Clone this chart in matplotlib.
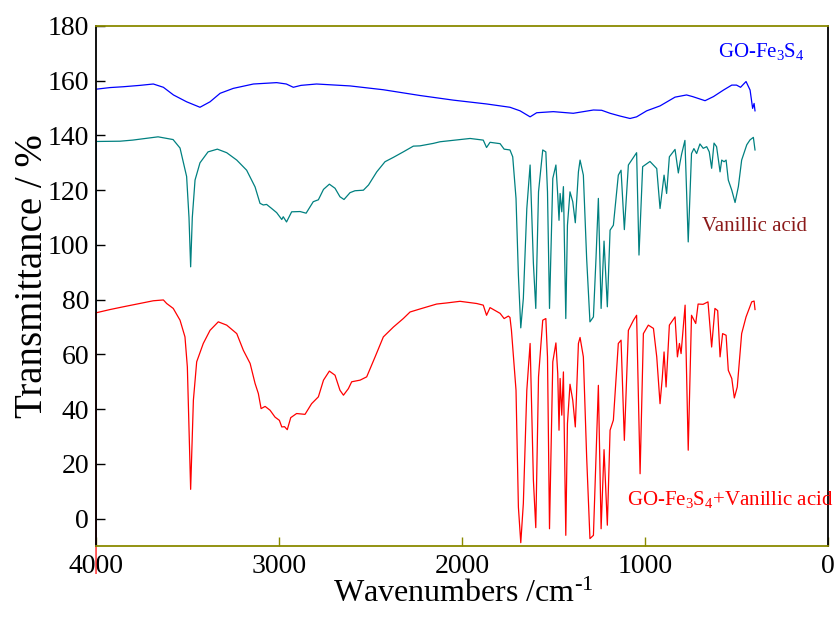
import matplotlib
matplotlib.use("Agg")
import matplotlib.pyplot as plt

plt.rcParams["font.family"] = ["Liberation Serif", "DejaVu Serif"]
plt.rcParams["mathtext.fontset"] = "custom"
plt.rcParams["mathtext.rm"] = "Liberation Serif"
plt.rcParams["mathtext.it"] = "Liberation Serif:italic"
plt.rcParams["mathtext.bf"] = "Liberation Serif:bold"

# FTIR spectra: wavenumber (cm-1) and transmittance (%, offset per trace)
go_wn = [4000, 4000, 3923, 3851, 3760, 3687, 3632, 3577, 3505, 3432, 3377, 3322, 3250,
         3140, 3013, 2960, 2922, 2880, 2795, 2612, 2430, 2230, 2047, 1865, 1738,
         1683, 1628, 1592, 1501, 1392, 1282, 1237, 1191, 1137, 1082, 1046, 991,
         918, 836, 773, 740, 672, 626, 571, 526, 500, 478, 448, 426, 412, 404, 399]
go_t = [-20, 156.9, 157.5, 157.8, 158.3, 158.8, 157.6, 154.8, 152.3, 150.3, 152.3, 155.4,
        157.2, 158.8, 159.3, 158.8, 157.6, 158.3, 158.8, 158.1, 156.7, 154.6, 152.9,
        151.5, 150.3, 149.0, 146.8, 148.3, 148.7, 148.1, 149.3, 149.2, 148.1, 147.1,
        146.2, 146.8, 149.0, 150.8, 154.0, 154.8, 154.2, 152.7, 154.2, 156.6, 158.4,
        158.4, 157.6, 159.7, 156.6, 149.9, 151.7, 149.0]

va_wn = [4000, 4000, 3869, 3800, 3732, 3661, 3579, 3541, 3526, 3505, 3492, 3483, 3474, 3459,
         3432, 3388, 3337, 3286, 3231, 3177, 3131, 3104, 3086, 3068, 3040, 3013,
         2985, 2977, 2959, 2931, 2885, 2852, 2813, 2785, 2757, 2725, 2694, 2667,
         2645, 2612, 2585, 2539, 2511, 2466, 2421, 2375, 2321, 2266, 2230, 2157,
         2120, 2011, 1956, 1884, 1866, 1847, 1792, 1770, 1738, 1723, 1705, 1692,
         1679, 1665, 1646, 1628, 1610, 1597, 1582, 1559, 1542, 1533, 1522, 1504,
         1487, 1477, 1470, 1464, 1455, 1446, 1433, 1424, 1410, 1395, 1381, 1364,
         1355, 1337, 1319, 1301, 1282, 1268, 1255, 1240, 1224, 1206, 1191, 1173,
         1146, 1131, 1113, 1091, 1046, 1033, 1013, 973, 936, 918, 896, 882, 867,
         836, 818, 809, 800, 782, 764, 746, 733, 718, 700, 682, 663, 649, 636, 623,
         609, 590, 581, 568, 557, 545, 526, 508, 490, 472, 444, 426, 408, 399]
va_t = [-20, 137.8, 137.9, 138.3, 138.9, 139.5, 138.5, 135.4, 131.0, 125.0, 110.0, 92.0,
        110.0, 123.7, 130.0, 134.0, 135.0, 133.7, 131.0, 127.3, 121.2, 115.2, 114.6,
        114.8, 113.3, 111.8, 109.3, 110.3, 108.4, 112.1, 112.2, 111.6, 115.8, 116.5,
        120.3, 122.2, 120.7, 117.6, 116.6, 119.1, 119.8, 120.0, 121.9, 126.7, 130.4,
        132.0, 134.0, 136.1, 136.2, 137.1, 137.7, 138.5, 138.9, 138.3, 135.6, 137.5,
        137.0, 135.0, 134.7, 132.2, 117.0, 89.0, 69.7, 80.4, 113.3, 129.2, 93.2,
        76.8, 119.4, 134.7, 134.0, 119.4, 76.8, 124.3, 129.2, 118.2, 109.0, 118.8,
        112.1, 121.3, 73.1, 107.2, 119.4, 115.8, 108.1, 126.7, 131.0, 125.5, 95.0,
        71.9, 73.7, 95.0, 117.0, 76.8, 101.4, 77.4, 105.4, 107.2, 125.5, 127.3,
        105.6, 129.2, 133.7, 96.3, 128.6, 130.5, 127.9, 113.3, 125.5, 118.8, 132.2,
        134.9, 126.3, 130.0, 133.2, 138.2, 101.1, 133.4, 135.2, 133.4, 136.9, 135.3,
        135.9, 134.0, 128.0, 137.2, 135.9, 126.7, 131.0, 130.4, 131.0, 123.7, 120.0,
        115.5, 121.3, 131.0, 136.6, 138.4, 139.3, 134.7]

mix_wn = [4000, 4000, 3923, 3851, 3760, 3687, 3632, 3614, 3578, 3541, 3514, 3501, 3483, 3468,
          3450, 3414, 3377, 3332, 3286, 3231, 3195, 3158, 3131, 3113, 3098, 3076,
          3049, 3022, 2998, 2985, 2970, 2955, 2936, 2904, 2858, 2822, 2785, 2757,
          2725, 2694, 2667, 2648, 2621, 2603, 2557, 2521, 2475, 2430, 2375, 2321,
          2284, 2230, 2139, 2084, 2011, 1920, 1884, 1866, 1847, 1792, 1770, 1747,
          1738, 1730, 1705, 1692, 1679, 1665, 1646, 1628, 1610, 1597, 1582, 1559,
          1542, 1533, 1522, 1504, 1487, 1477, 1470, 1464, 1455, 1446, 1433, 1424,
          1410, 1395, 1381, 1364, 1355, 1337, 1319, 1301, 1282, 1268, 1255, 1240,
          1224, 1206, 1191, 1173, 1146, 1131, 1113, 1091, 1063, 1046, 1027, 1009,
          982, 954, 936, 918, 906, 896, 885, 867, 836, 823, 812, 803, 781, 764, 746,
          723, 710, 683, 656, 636, 618, 603, 590, 576, 557, 545, 526, 512, 496, 472,
          448, 417, 404, 399]
mix_t = [-20, 75.2, 76.4, 77.4, 78.6, 79.6, 79.9, 78.6, 76.8, 72.5, 66.4, 55.4, 10.7, 43.3,
         57.3, 64.0, 68.8, 71.9, 70.7, 67.6, 61.5, 56.7, 49.4, 45.7, 40.2, 41.0,
         39.6, 37.1, 35.9, 33.5, 33.6, 32.5, 36.9, 38.4, 38.1, 42.0, 44.5, 50.6,
         53.9, 52.4, 46.9, 45.1, 47.5, 50.0, 50.6, 51.8, 59.1, 66.4, 70.0, 73.1,
         75.5, 76.6, 78.4, 78.8, 79.4, 78.6, 78.0, 74.3, 77.1, 75.0, 73.1, 74.0,
         73.5, 68.8, 46.9, 4.2, -8.8, 5.5, 46.9, 64.0, 14.0, -3.3, 51.8, 72.5,
         73.1, 59.1, -3.7, 57.3, 64.2, 53.0, 32.3, 51.2, 37.8, 53.6, -6.1, 34.7,
         49.1, 43.3, 33.5, 64.0, 66.2, 59.1, 22.5, -7.3, -6.1, 22.5, 48.7, -3.7,
         25.2, -2.4, 32.3, 36.0, 64.0, 65.2, 28.6, 68.8, 72.5, 74.3, 16.4, 67.6,
         70.7, 69.5, 59.1, 42.0, 51.2, 60.9, 48.1, 70.7, 73.7, 59.1, 64.0, 60.3,
         78.0, 25.0, 74.3, 71.3, 78.4, 78.3, 79.2, 62.7, 76.8, 76.0, 59.1, 67.6,
         67.0, 54.2, 51.2, 44.1, 48.1, 67.6, 73.7, 79.2, 79.5, 76.4]

series_names = ["GO-Fe$_3$S$_4$", "Vanillic acid", "GO-Fe$_3$S$_4$+Vanillic acid"]
x_ticks = [4000, 3000, 2000, 1000, 0]
y_ticks = [0, 20, 40, 60, 80, 100, 120, 140, 160, 180]

olive = "#8a8a00"

fig = plt.figure(figsize=(8.38, 6.26), dpi=100)
ax = fig.add_axes([0.1146, 0.1278, 0.8735, 0.8307])

ax.plot(go_wn, go_t, color="#0000ff", lw=0.9)
ax.plot(va_wn, va_t, color="#008080", lw=0.9)
ax.plot(mix_wn, mix_t, color="#ff0000", lw=0.9, clip_on=False)

ax.set_xlim(4000, 0)
ax.set_ylim(-10, 180)
ax.set_xticks(x_ticks)
ax.set_yticks(y_ticks)

ax.tick_params(axis="x", direction="in", length=6.5, width=1.0, color=olive,
               labelcolor="black", labelsize=20, pad=6, top=False)
ax.tick_params(axis="y", direction="in", length=6.5, width=1.0, color="black",
               labelcolor="black", labelsize=20, pad=5, right=False)

for side in ("top", "bottom"):
    ax.spines[side].set_color(olive)
    ax.spines[side].set_linewidth(1.3)
for side in ("left", "right"):
    ax.spines[side].set_color("black")
    ax.spines[side].set_linewidth(1.3)

ax.set_xlabel("Wavenumbers /cm$^{\\text{-1}}$", fontsize=23)
ax.xaxis.set_label_coords(0.501, -0.108)
ax.xaxis.label.set_verticalalignment("baseline")

ax.set_ylabel("Transmittance / %", fontsize=28)
ax.yaxis.set_label_coords(-0.0738, 0.519)
ax.yaxis.label.set_verticalalignment("baseline")
ax.yaxis.label.set_rotation_mode("anchor")

ax.text(601, 168.8, series_names[0], color="#0000ff", fontsize=15,
        ha="left", va="baseline")
ax.text(690, 105.0, series_names[1], color="#8b1a1a", fontsize=15,
        ha="left", va="baseline")
ax.text(1100, 4.9, series_names[2], color="#ff0000", fontsize=15,
        ha="left", va="baseline")

fig.savefig("out.png", dpi=100)
